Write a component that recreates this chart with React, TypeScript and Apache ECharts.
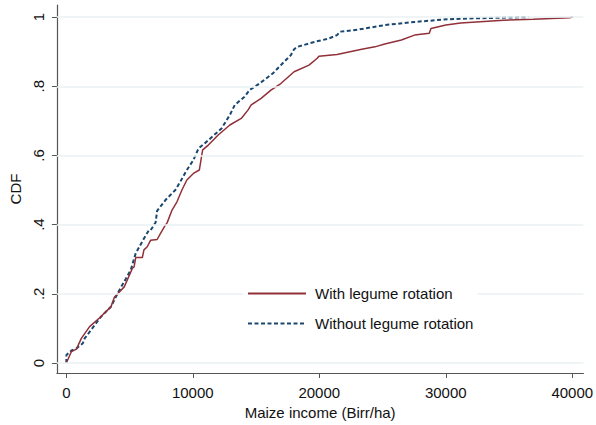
import React, { useEffect, useRef } from "react";
import * as echarts from "echarts";

// Maize income (Birr/ha) vs CDF
const withIncome = [0, 410, 800, 1190, 1840, 2620, 3540, 3800, 4580, 5230, 5360, 5490, 6010, 6140, 6400, 6670, 7180, 7450, 7840, 7970, 8360, 8750, 9140, 9530, 10050, 10520, 10780, 11230, 12010, 12930, 13830, 14360, 14620, 15400, 16180, 16960, 18010, 19190, 19840, 19970, 21400, 23360, 24400, 25180, 26490, 27530, 28700, 28830, 30010, 31180, 34570, 36920, 39790, 40050];
const withCdf = [0, 0.033, 0.04, 0.071, 0.105, 0.13, 0.163, 0.19, 0.22, 0.274, 0.278, 0.305, 0.305, 0.327, 0.336, 0.355, 0.357, 0.375, 0.399, 0.405, 0.442, 0.466, 0.5, 0.529, 0.548, 0.558, 0.616, 0.63, 0.659, 0.688, 0.707, 0.731, 0.746, 0.765, 0.789, 0.808, 0.842, 0.861, 0.881, 0.887, 0.892, 0.907, 0.914, 0.922, 0.934, 0.948, 0.953, 0.967, 0.977, 0.983, 0.991, 0.994, 0.998, 1.0];

const withoutIncome = [0, 10, 410, 800, 1310, 1450, 2750, 3540, 4050, 5100, 5360, 5490, 6140, 6530, 6670, 7060, 7180, 7840, 8620, 9010, 9530, 10050, 10450, 11100, 12270, 12930, 13320, 14100, 14490, 15270, 16320, 16960, 17750, 18010, 18270, 19700, 20750, 21400, 21660, 23100, 25180, 27530, 29870, 31700, 36530];
const withoutCdf = [0, 0.023, 0.036, 0.042, 0.057, 0.071, 0.134, 0.163, 0.201, 0.269, 0.302, 0.317, 0.36, 0.384, 0.384, 0.406, 0.44, 0.471, 0.5, 0.524, 0.558, 0.587, 0.62, 0.64, 0.678, 0.717, 0.746, 0.77, 0.789, 0.808, 0.837, 0.861, 0.89, 0.907, 0.914, 0.929, 0.938, 0.948, 0.958, 0.964, 0.977, 0.986, 0.993, 0.996, 1.0];

const xTicks = [0, 10000, 20000, 30000, 40000];
const yTicks = [0, 0.2, 0.4, 0.6, 0.8, 1];
const seriesNames = ["With legume rotation", "Without legume rotation"];

const FONT = "Liberation Sans, Arial, sans-serif";

export default function App() {
  const ref = useRef<HTMLDivElement>(null);
  useEffect(() => {
    if (!ref.current) return;
    const chart = echarts.init(ref.current, null, { renderer: "svg" });
    const yFmt = (v: number) => {
      if (Math.abs(v) < 1e-9) return "0";
      if (Math.abs(v - 1) < 1e-9) return "1";
      return "." + Math.round(v * 10);
    };
    chart.setOption({
      animation: false,
      backgroundColor: "#ffffff",
      grid: { left: 52, right: 12, top: 5, bottom: 52 },
      legend: {
        orient: "vertical",
        left: 243,
        top: 284,
        padding: [2, 4, 2, 4],
        backgroundColor: "#ffffff",
        z: 10,
        itemWidth: 58,
        itemHeight: 14,
        itemGap: 15,
        data: seriesNames,
        itemStyle: { opacity: 0 },
        textStyle: { fontFamily: FONT, fontSize: 15, color: "#111", padding: [0, 0, 0, 4] },
      },
      xAxis: {
        type: "value",
        min: -743,
        max: 40880,
        name: "Maize income (Birr/ha)",
        nameLocation: "middle",
        nameGap: 30,
        nameTextStyle: { fontFamily: FONT, fontSize: 15, color: "#111" },
        axisLine: { onZero: false, lineStyle: { color: "#555", width: 1.2 } },
        axisTick: { show: true, customValues: xTicks, length: 5, lineStyle: { color: "#555" } },
        axisLabel: { customValues: xTicks, formatter: (v: number) => String(v), fontFamily: FONT, fontSize: 15, color: "#111", margin: 12 },
        splitLine: { show: false },
      },
      yAxis: {
        type: "value",
        min: -0.029,
        max: 1.035,
        name: "CDF",
        nameLocation: "middle",
        nameGap: 30,
        nameTextStyle: { fontFamily: FONT, fontSize: 15, color: "#111" },
        axisLine: { show: true, onZero: false, lineStyle: { color: "#555", width: 1.2 } },
        axisTick: { show: true, customValues: yTicks, length: 5, lineStyle: { color: "#555" } },
        axisLabel: { customValues: yTicks, rotate: 90, formatter: yFmt, fontFamily: FONT, fontSize: 15, color: "#111", margin: 11 },
        splitLine: { show: false },
      },
      series: [
        {
          name: "grid",
          type: "line",
          data: [],
          silent: true,
          z: 1,
          markLine: {
            silent: true,
            symbol: "none",
            label: { show: false },
            lineStyle: { type: "solid", color: "#eaf2f3", width: 1.5 },
            data: yTicks.map((v) => ({ yAxis: v })),
          },
        },
        {
          name: seriesNames[0],
          type: "line",
          z: 3,
          symbol: "none",
          data: withIncome.map((v, i) => [v, withCdf[i]]),
          lineStyle: { color: "#913039", width: 1.5, type: "solid" },
          itemStyle: { color: "#913039" },
        },
        {
          name: seriesNames[1],
          type: "line",
          z: 2,
          symbol: "none",
          data: withoutIncome.map((v, i) => [v, withoutCdf[i]]),
          lineStyle: { color: "#1a476f", width: 2, type: [4, 2.5] },
          itemStyle: { color: "#1a476f" },
        },
      ],
    });
    return () => chart.dispose();
  }, []);
  return <div ref={ref} style={{ position: "absolute", left: 0, top: 0, width: 596, height: 425 }} />;
}
